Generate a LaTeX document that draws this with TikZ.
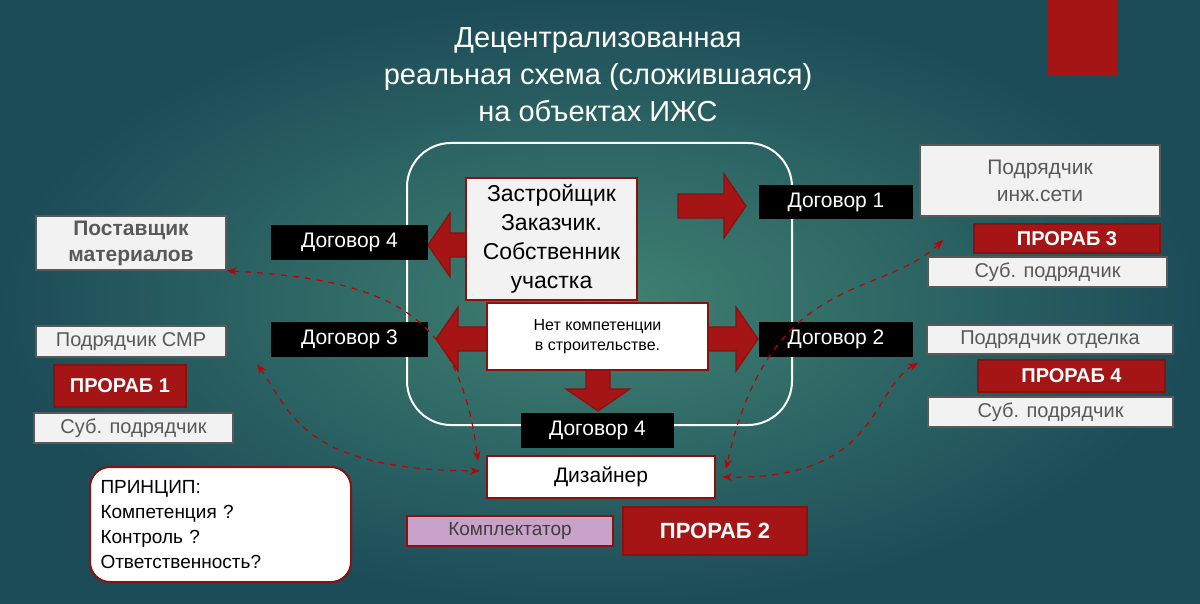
\documentclass[tikz,border=0pt]{standalone}
\usepackage{fontspec}
\setmainfont{Liberation Sans}
\usetikzlibrary{arrows.meta}
\definecolor{dred}{HTML}{A51515}
\definecolor{dred2}{HTML}{8B1010}
\definecolor{lgray}{HTML}{F2F2F2}
\definecolor{gtext}{HTML}{595959}
\definecolor{lilac}{HTML}{C8A2C8}
\newcommand\fatarrowx[4]{\begin{scope}[shift={(#1,#2)},rotate=#4]
\filldraw[fill=dred,draw=dred2,line width=0.6pt] (0,-12)--(#3-22,-12)--(#3-22,-32)--(#3,0)--(#3-22,32)--(#3-22,12)--(0,12)--cycle;
\end{scope}}
\tikzset{
 px/.style={x=0.5pt,y=-0.5pt},
 lbox/.style={fill=lgray,draw=gray!70!black,line width=0.8pt,text=gtext,align=center,inner sep=0pt},
 dog/.style={fill=black,text=white,inner sep=0pt,font=\fontsize{10.5}{12}\selectfont},
 prb/.style={fill=dred,draw=dred2,line width=1pt,text=white,font=\bfseries\fontsize{10}{12}\selectfont,inner sep=0pt},
 dsh/.style={dashed,draw=red!75!black,line width=0.6pt,{Stealth[length=5pt]}-{Stealth[length=5pt]}}
}
\begin{document}
\begin{tikzpicture}[px]
\useasboundingbox (0,0) rectangle (1200,604);
\shade[inner color={rgb,255:red,64;green,130;blue,114},outer color={rgb,255:red,28;green,76;blue,88}] (0,0) rectangle (1200,604);
\fill[dred] (1047,0) rectangle (1118,75);
\node[text=white,align=center,font=\fontsize{14.5}{18.5}\selectfont] (title) at (598,75) {Децентрализованная\\реальная схема (сложившаяся)\\на объектах ИЖС};
\draw[white,line width=1pt,rounded corners=22pt] (407,143) rectangle (792,425);
% big arrows
\fatarrowx{490}{245}{62}{180}
\fatarrowx{678}{206}{68}{0}
\fatarrowx{498}{339}{62}{180}
\fatarrowx{690}{339}{68}{0}
\fatarrowx{598}{365}{46}{-90}
% center boxes
\node[fill=lgray,draw=dred2,line width=1pt,minimum width=85.5pt,minimum height=61pt,align=center,font=\fontsize{11.5}{14.5}\selectfont] (z) at (551.5,239) {Застройщик\\Заказчик.\\Собственник\\участка};
\node[fill=white,draw=dred2,line width=1pt,minimum width=110.5pt,minimum height=33.5pt,align=center,font=\fontsize{8}{10}\selectfont] (n) at (597.5,337) {Нет компетенции\\в строительстве.};
% dogovor
\node[dog,minimum width=78.5pt,minimum height=17.5pt] (d4) at (349.5,242.5) {Договор 4};
\node[dog,minimum width=77pt,minimum height=17pt] (d1) at (836,202) {Договор 1};
\node[dog,minimum width=78.5pt,minimum height=17.5pt] (d3) at (349.5,339.5) {Договор 3};
\node[dog,minimum width=77pt,minimum height=17.5pt] (d2) at (836,339.5) {Договор 2};
\node[dog,minimum width=76.5pt,minimum height=17.5pt] (d5) at (597.5,430.5) {Договор 4};
% left
\node[lbox,minimum width=95pt,minimum height=27pt,font=\bfseries\fontsize{10.5}{13}\selectfont] (post) at (131,243) {Поставщик\\материалов};
\node[lbox,minimum width=95pt,minimum height=15.5pt,font=\fontsize{10}{12}\selectfont] (smr) at (131,341.5) {Подрядчик СМР};
\node[prb,minimum width=66pt,minimum height=21pt] (p1) at (120,386) {ПРОРАБ 1};
\node[lbox,minimum width=99.5pt,minimum height=15pt,font=\fontsize{10}{12}\selectfont] (s1) at (133.5,428) {Суб. подрядчик};
% right
\node[lbox,minimum width=120pt,minimum height=35.5pt,font=\fontsize{10.5}{13.5}\selectfont] (inz) at (1040,180.5) {Подрядчик\\инж.сети};
\node[prb,minimum width=93pt,minimum height=14.5pt] (p3) at (1067,238.5) {ПРОРАБ 3};
\node[lbox,minimum width=119.5pt,minimum height=15pt,font=\fontsize{10}{12}\selectfont] (s3) at (1047.5,272) {Суб. подрядчик};
\node[lbox,minimum width=123pt,minimum height=14.5pt,font=\fontsize{10}{12}\selectfont] (otd) at (1050,339.5) {Подрядчик отделка};
\node[prb,minimum width=93.5pt,minimum height=16pt] (p4) at (1071.5,376) {ПРОРАБ 4};
\node[lbox,minimum width=122.5pt,minimum height=15pt,font=\fontsize{10}{12}\selectfont] (s4) at (1050.5,412) {Суб. подрядчик};
% bottom
\node[fill=white,draw=dred2,line width=1pt,minimum width=114pt,minimum height=21pt,font=\fontsize{10.5}{12}\selectfont] (diz) at (601,477) {Дизайнер};
\node[fill=lilac,draw=dred2,line width=0.8pt,minimum width=103pt,minimum height=15pt,inner sep=0pt,text=gtext!70!black,font=\fontsize{9.5}{11}\selectfont] (kom) at (510,531) {Комплектатор};
\node[prb,minimum width=92pt,minimum height=24pt,font=\bfseries\fontsize{11}{13}\selectfont] (p2) at (715,531) {ПРОРАБ 2};
\node[fill=white,draw=dred2,line width=1pt,rounded corners=10pt,minimum width=130.5pt,minimum height=57.5pt,align=left,text width=120pt,font=\fontsize{9.5}{12.5}\selectfont] (pr) at (220.5,524.5) {ПРИНЦИП:\\Компетенция ?\\Контроль ?\\Ответственность?};
% dashed
\coordinate (c3) at (943,240);
\coordinate (c2) at (257,364);
\draw[dsh] (post.south east) .. controls (400,280) and (460,320) .. ([xshift=-4pt,yshift=-3pt]diz.north west);
\draw[dsh] (c2) .. controls (290,410) and (300,470) .. ([xshift=-3pt,yshift=-8pt]diz.north west);
\draw[dsh] (c3) .. controls (880,300) and (770,270) .. ([xshift=5pt,yshift=-7pt]diz.north east);
\draw[dsh] ([xshift=-4pt,yshift=-4pt]otd.south west) .. controls (870,390) and (880,480) .. ([xshift=3pt,yshift=0pt]diz.east);
\end{tikzpicture}
\end{document}
